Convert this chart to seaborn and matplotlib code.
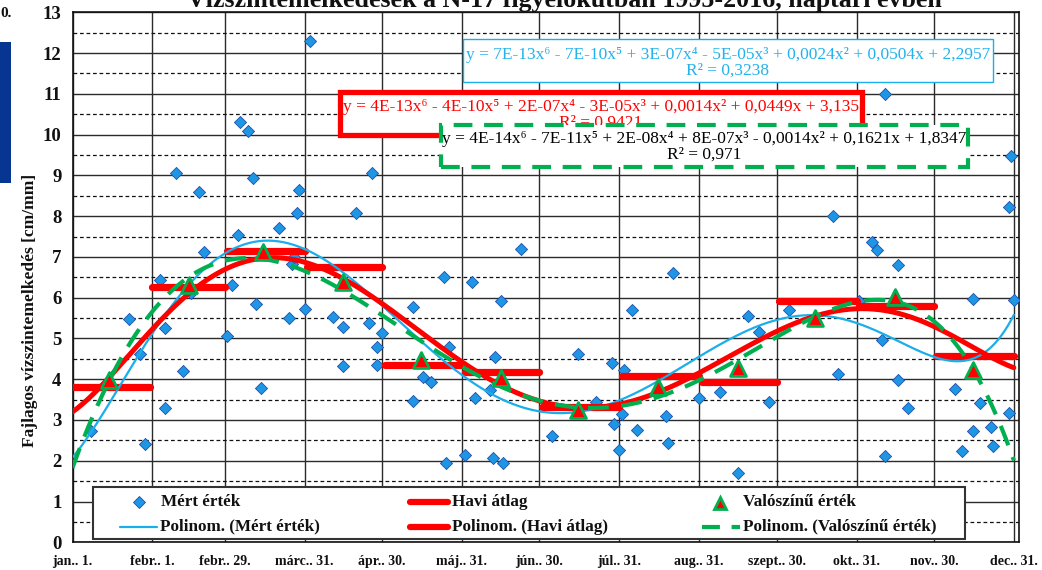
import numpy as np
import matplotlib
matplotlib.use("Agg")
import matplotlib.pyplot as plt
import seaborn as sns
from matplotlib.lines import Line2D
from matplotlib.patches import Rectangle

# ---- data -------------------------------------------------------------
# measured values (day of year, specific water-level rise)
mert_nap = [8, 23, 27, 29, 35, 37, 37, 41, 44, 47, 50, 52,
            61, 63, 65, 66, 69, 71, 72, 74, 81, 85, 86, 87, 88, 89, 91, 93,
            102, 106, 106, 111, 116, 117, 119, 119, 121,
            133, 133, 137, 140, 145, 146, 147,
            153, 156, 157, 163, 164, 165, 167, 168, 175,
            187, 197, 204, 210, 211, 213,
            214, 215, 218, 220, 231, 232, 234, 244,
            252, 259, 263, 267, 271,
            279, 296, 298, 306,
            311, 313, 315, 316, 316, 321, 321, 325,
            343, 346, 350, 350, 353, 357, 358, 364, 364, 365, 366]
mert_ertek = [2.74, 5.48, 4.62, 2.40, 6.43, 5.25, 3.29, 9.07, 4.20, 6.11, 8.58, 7.13,
              5.07, 6.31, 7.54, 10.30, 10.10, 8.94, 5.84, 3.78, 7.70, 5.49, 6.83, 6.99, 8.07, 8.64, 5.72, 12.30,
              5.53, 4.32, 5.27, 8.07, 5.39, 9.07, 4.80, 4.35, 5.14,
              3.47, 5.76, 4.06, 3.92, 6.51, 1.95, 4.80,
              2.14, 6.38, 3.54, 3.74, 2.06, 4.54, 5.93, 1.94, 7.19,
              2.61, 4.62, 3.43, 4.41, 2.89, 2.26,
              3.14, 4.23, 5.70, 2.75, 3.10, 2.43, 6.61, 3.55,
              3.69, 1.69, 5.56, 5.17, 3.43,
              5.70, 8.01, 4.12, 5.93,
              7.36, 7.17, 4.96, 2.12, 11.00, 6.80, 3.98, 3.29,
              3.76, 2.25, 2.74, 5.96, 3.41, 2.82, 2.36, 3.16, 8.22, 9.48, 5.94]

# monthly means (first / last day of each month in a leap year)
honap_eleje = [1, 32, 61, 92, 122, 153, 183, 214, 245, 275, 306, 336]
honap_vege = [31, 60, 91, 121, 152, 182, 213, 244, 274, 305, 335, 366]
havi_atlag = [3.82, 6.25, 7.15, 6.76, 4.35, 4.18, 3.33, 4.08, 3.92, 5.93, 5.80, 4.57]

# probable values (15th of each month)
valoszinu_nap = [15, 46, 75, 106, 136, 167, 197, 228, 259, 289, 320, 350]
valoszinu_ertek = [3.98, 6.31, 7.13, 6.39, 4.47, 4.02, 3.25, 3.82, 4.27, 5.49, 6.01, 4.23]

tick_napok = [1, 32, 60, 91, 121, 152, 182, 213, 244, 274, 305, 335, 366]
tick_cimkek = ["jan.. 1.", "febr.. 1.", "febr.. 29.", "márc.. 31.", "ápr.. 30.",
               "máj.. 31.", "jún.. 30.", "júl.. 31.", "aug.. 31.", "szept.. 30.",
               "okt.. 31.", "nov.. 30.", "dec.. 31."]

egyenlet_mert = ("y = 7E-13x\u2076 - 7E-10x\u2075 + 3E-07x\u2074 - 5E-05x\u00b3 + "
                 "0,0024x\u00b2 + 0,0504x + 2,2957\nR\u00b2 = 0,3238")
egyenlet_havi = ("y = 4E-13x\u2076 - 4E-10x\u2075 + 2E-07x\u2074 - 3E-05x\u00b3 + "
                 "0,0014x\u00b2 + 0,0449x + 3,135\nR\u00b2 = 0,9421")
egyenlet_valoszinu = ("y = 4E-14x\u2076 - 7E-11x\u2075 + 2E-08x\u2074 + 8E-07x\u00b3 - "
                      "0,0014x\u00b2 + 0,1621x + 1,8347\nR\u00b2 = 0,971")

jelmagyarazat = ["Mért érték", "Havi átlag", "Valószínű érték",
                 "Polinom. (Mért érték)", "Polinom. (Havi átlag)", "Polinom. (Valószínű érték)"]

# ---- styling ----------------------------------------------------------
KEK = "#1E96E6"
KEK_SZEGELY = "#1F4FA8"
KEK_VONAL = "#1AAEEA"
PIROS = "#FF0000"
ZOLD = "#00B050"
SZAGGATOTT = (0, (5, 3))

sns.set_theme(style="white")
plt.rcParams["font.family"] = ["Liberation Serif", "DejaVu Serif"]

W, H = 1042, 570
fig = plt.figure(figsize=(W / 100, H / 100), dpi=100)
fig.patch.set_facecolor("white")

x0, x1, y0, y1 = 72.5, 1019, 12.3, 542.3
ax = fig.add_axes([x0 / W, 1 - y1 / H, (x1 - x0) / W, (y1 - y0) / H])
ax.set_xlim(1, 368)
ax.set_ylim(0, 13)

# grid
ax.set_yticks(np.arange(0, 14, 1))
ax.set_yticks(np.arange(0.5, 13, 1), minor=True)
ax.set_xticks(tick_napok)
ax.set_xticklabels(tick_cimkek)
ax.grid(which="major", axis="both", color="#2b2b2b", lw=1.0, zorder=0)
ax.grid(which="minor", axis="y", color="#111111", lw=0.9, ls=(0, (3, 2.2)), zorder=0)
ax.set_axisbelow(True)
for s in ax.spines.values():
    s.set_color("#111111")
    s.set_linewidth(1.2)

ax.tick_params(axis="y", which="major", direction="out", length=5, width=1, color="black",
               labelsize=13.5, pad=3)
ax.tick_params(axis="y", which="minor", direction="in", length=3, width=1, color="black")
ax.tick_params(axis="x", which="major", direction="out", length=5, width=1, color="black",
               labelsize=10, pad=4)
for lab in ax.get_xticklabels() + ax.get_yticklabels():
    lab.set_fontweight("bold")
    lab.set_color("#111111")

# polynomial trendlines (6th degree)
xs = np.linspace(1, 366, 600)
p_mert = np.polynomial.Polynomial.fit(mert_nap, mert_ertek, 6)

napok = np.arange(1, 367)
napi_atlag = np.empty(napok.size)
for a, b, v in zip(honap_eleje, honap_vege, havi_atlag):
    napi_atlag[(napok >= a) & (napok <= b)] = v
p_havi = np.polynomial.Polynomial.fit(napok, napi_atlag, 6)
p_val = np.polynomial.Polynomial.fit(valoszinu_nap, valoszinu_ertek, 6)

# measured points
sns.scatterplot(x=mert_nap, y=mert_ertek, marker="D", s=38, color=KEK,
                edgecolor=KEK_SZEGELY, linewidth=0.6, ax=ax, zorder=3, legend=False)

# monthly means
hl = ax.hlines(havi_atlag, honap_eleje, honap_vege, colors=PIROS, lw=5.2, zorder=4)
hl.set_capstyle("round")

sns.lineplot(x=xs, y=p_mert(xs), color=KEK_VONAL, lw=1.6, ax=ax, zorder=5,
             estimator=None, sort=False)
sns.lineplot(x=xs, y=p_havi(xs), color=PIROS, lw=3.6, ax=ax, zorder=5.5,
             estimator=None, sort=False)
sns.lineplot(x=xs, y=p_val(xs), color=ZOLD, lw=3.0, ax=ax, zorder=6,
             estimator=None, sort=False)
ax.lines[-1].set_linestyle(SZAGGATOTT)

# probable values
sns.scatterplot(x=valoszinu_nap, y=valoszinu_ertek, marker="^", s=130, color=PIROS,
                edgecolor=ZOLD, linewidth=2.0, ax=ax, zorder=7, legend=False)

ax.set_xlabel("")
ax.set_ylabel("")


def px(x, y):
    """figure-fraction position of a pixel position (origin top-left)"""
    return x / W, 1 - y / H


def doboz(xa, ya, xb, yb, szegely, lw, ls="solid", z=10):
    r = Rectangle(px(xa, yb), (xb - xa) / W, (yb - ya) / H,
                  transform=fig.transFigure, facecolor="white", edgecolor=szegely,
                  lw=lw, ls=ls, zorder=z)
    fig.add_artist(r)


# trendline equation boxes
doboz(463, 39.5, 993, 82, KEK_VONAL, 1.0, z=10)
fig.text(*px((463 + 993) / 2, 63), egyenlet_mert, ha="center", va="center",
         color="#22B2EC", fontsize=12.5, linespacing=1.0, zorder=11)

doboz(340, 92, 862, 135, PIROS, 3.8, z=12)
fig.text(*px((340 + 862) / 2, 115), egyenlet_havi, ha="center", va="center",
         color=PIROS, fontsize=12.5, linespacing=1.0, zorder=13)

doboz(441, 125, 968, 166.5, ZOLD, 3.0, ls=(0, (4.5, 2.8)), z=14)
fig.text(*px((441 + 968) / 2, 147), egyenlet_valoszinu, ha="center", va="center",
         color="black", fontsize=12.5, linespacing=1.0, zorder=15)

# legend box
doboz(92.7, 487.3, 965, 539.3, "#333333", 1.5, z=20)
sor1, sor2 = 501.7, 526.7
kezelok = [
    Line2D(*zip(px(139, sor1)), marker="D", ls="none", color=KEK, mec=KEK_SZEGELY, mew=0.6, ms=6.5),
    Line2D(*zip(px(410, sor1), px(448, sor1)), color=PIROS, lw=4.5, solid_capstyle="round"),
    Line2D(*zip(px(720, sor1 + 1)), marker="^", ls="none", mfc=PIROS, mec=ZOLD, mew=2, ms=9),
    Line2D(*zip(px(120, sor2), px(157, sor2)), color=KEK_VONAL, lw=1.6),
    Line2D(*zip(px(410, sor2), px(448, sor2)), color=PIROS, lw=4.5, solid_capstyle="round"),
    Line2D(*zip(px(702, sor2), px(740, sor2)), color=ZOLD, lw=3.0, ls=(0, (4.3, 2.8))),
]
for h in kezelok:
    h.set_transform(fig.transFigure)
    h.set_zorder(21)
    fig.add_artist(h)
szoveg_x = [161, 452, 743, 160, 452, 743]
szoveg_y = [sor1, sor1, sor1, sor2, sor2, sor2]
for t, xx, yy in zip(jelmagyarazat, szoveg_x, szoveg_y):
    fig.text(*px(xx, yy), t, ha="left", va="center", fontweight="bold", fontsize=12.3,
             color="#111111", zorder=22)

# axis title and chart title
fig.text(*px(30, 310), "Fajlagos vízszintemelkedés [cm/mm]", rotation=90,
         ha="center", va="center", fontweight="bold", fontsize=12.5, color="#111111")
fig.text(*px(564, 6.5), "Vízszintemelkedések a N-17 figyelőkútban 1995-2016, naptári évben",
         ha="center", va="baseline", fontweight="bold", fontsize=18.7, color="#111111")

# page remnants at the left edge
fig.add_artist(Rectangle(px(0, 183), 11 / W, (183 - 42) / H, transform=fig.transFigure,
                         facecolor="#063592", edgecolor="none"))
fig.text(*px(12, 17), "0.", ha="right", va="baseline", fontweight="bold",
         fontsize=11, color="#111111")

fig.savefig("out.png", dpi=100, facecolor="white")
